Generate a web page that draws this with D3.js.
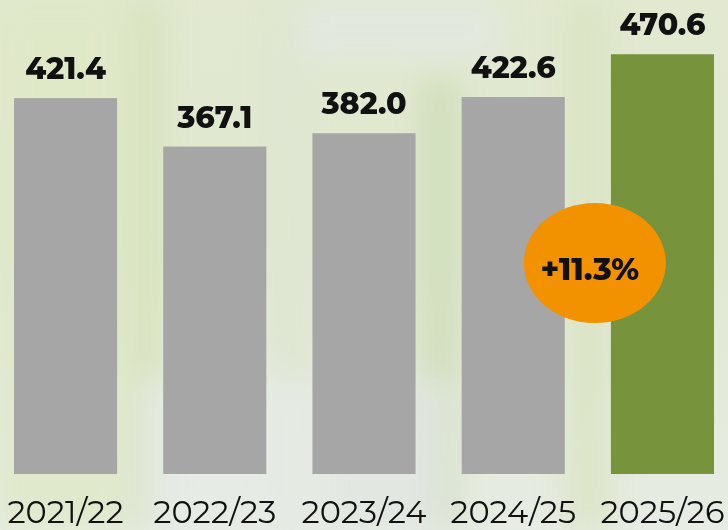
<!DOCTYPE html>
<html><head><meta charset="utf-8">
<script src="https://cdn.jsdelivr.net/npm/d3@7"></script>
<style>html,body{margin:0;padding:0;overflow:hidden;background:#e4eadb}</style>
</head><body>
<svg id="c" width="728" height="530"></svg>
<script>
const categories = ["2021/22","2022/23","2023/24","2024/25","2025/26"];
const values = [421.4, 367.1, 382.0, 422.6, 470.6];
const valueLabels = ["421.4","367.1","382.0","422.6","470.6"];
const changeLabel = "+11.3%";

const W = 728, H = 530;
const svg = d3.select("#c");
const defs = svg.append("defs");

// background approximation of blurred photo
const g = defs.append("linearGradient").attr("id","bg").attr("x1",0).attr("y1",0).attr("x2",0).attr("y2",1);
g.append("stop").attr("offset","0%").attr("stop-color","#e2e9d0");
g.append("stop").attr("offset","45%").attr("stop-color","#e0e8d0");
g.append("stop").attr("offset","100%").attr("stop-color","#e7ece4");
svg.append("rect").attr("width",W).attr("height",H).attr("fill","url(#bg)");
const blur = defs.append("filter").attr("id","blur").attr("x","-50%").attr("y","-50%").attr("width","200%").attr("height","200%");
blur.append("feGaussianBlur").attr("stdDeviation",14);
const blobs = [
  {x:0,y:0,w:120,h:530,c:"#dfe9c6"},
  {x:125,y:0,w:40,h:530,c:"#d6e2bc"},
  {x:270,y:0,w:40,h:530,c:"#dde6d2"},
  {x:420,y:80,w:40,h:450,c:"#cddcb6"},
  {x:565,y:0,w:45,h:530,c:"#d9e4c2"},
  {x:140,y:380,w:180,h:150,c:"#e6ebe6"},
  {x:300,y:0,w:200,h:60,c:"#e3e8e2"},
  {x:330,y:380,w:120,h:150,c:"#e1e6e2"}
];
svg.append("g").attr("filter","url(#blur)").selectAll("rect").data(blobs).join("rect")
  .attr("x",d=>d.x).attr("y",d=>d.y).attr("width",d=>d.w).attr("height",d=>d.h).attr("fill",d=>d.c).attr("opacity",0.8);

const x = d3.scaleBand().domain(categories).range([14, 714]).paddingInner(0.309).paddingOuter(0);
const y = d3.scaleLinear().domain([0, 531.4]).range([474, 0]);

const bars = svg.append("g");
bars.selectAll("rect").data(values).join("rect")
  .attr("x",(d,i)=>x(categories[i]))
  .attr("width",x.bandwidth())
  .attr("y",d=>y(d))
  .attr("height",d=>y(0)-y(d))
  .attr("fill",(d,i)=> i===values.length-1 ? "#77933c" : "#a6a6a6");

const font = "Montserrat, 'Open Sans', Lato, sans-serif";
svg.append("g").selectAll("text").data(values).join("text")
  .attr("x",(d,i)=>x(categories[i])+x.bandwidth()/2)
  .attr("y",d=>y(d)-19)
  .attr("text-anchor","middle")
  .attr("font-family",font).attr("font-weight",800).attr("font-size",30)
  .attr("fill","#111")
  .text((d,i)=>valueLabels[i]);

svg.append("g").selectAll("text").data(categories).join("text")
  .attr("x",d=>x(d)+x.bandwidth()/2)
  .attr("y",523)
  .attr("text-anchor","middle")
  .attr("font-family",font).attr("font-weight",400).attr("font-size",32)
  .attr("fill","#111")
  .text(d=>d);

// change badge between last two bars
const cx = (x(categories[3])+x.bandwidth() + x(categories[4]))/2;
const badge = svg.append("g");
badge.append("ellipse").attr("cx",cx+7).attr("cy",263).attr("rx",71).attr("ry",60).attr("fill","#f39200");
badge.append("text").attr("x",cx+2).attr("y",280).attr("text-anchor","middle")
  .attr("font-family",font).attr("font-weight",800).attr("font-size",31).attr("fill","#111")
  .text(changeLabel);
</script>
</body></html>
